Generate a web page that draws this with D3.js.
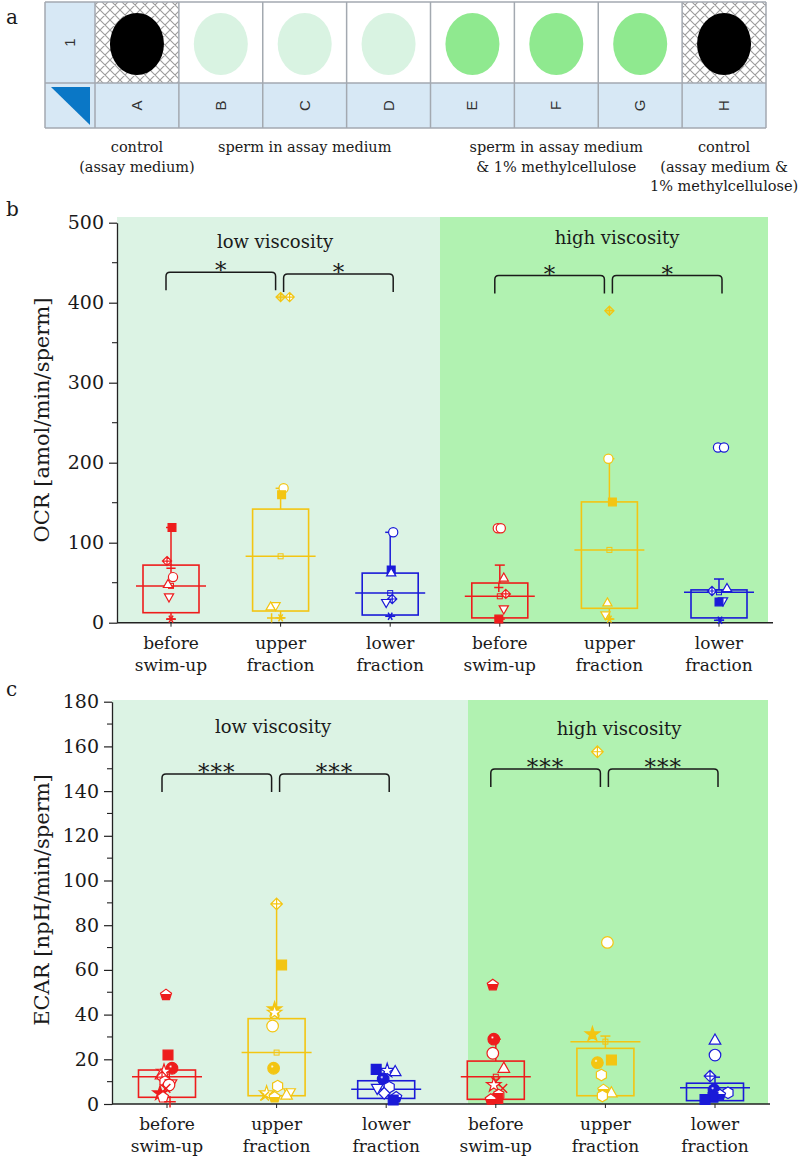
<!DOCTYPE html>
<html><head><meta charset="utf-8">
<script src="https://cdn.jsdelivr.net/npm/d3@7"></script>
<style>
body{margin:0;background:#fff}
svg{display:block}
text{font-family:"DejaVu Serif",serif;fill:#1a1a1a}
</style>
</head><body>
<svg id="chart" width="800" height="1157"></svg>
<script>
// ---------------- DATA ----------------
// panel a: well plate
const wellRows = ["1"];
const wellColumns = ["A","B","C","D","E","F","G","H"];
const wellContent = ["control","low","low","low","high","high","high","control"];
const plateLabels = [["control","(assay medium)"],["sperm in assay medium"],["sperm in assay medium","& 1% methylcellulose"],["control","(assay medium &","1% methylcellulose)"]];
const plateLabelColumns = ["A","C","F","H"];

// panels b, c: groups
const groups = ["low-before","low-upper","low-lower","high-before","high-upper","high-lower"];
const categoryLabels = [["before","swim-up"],["upper","fraction"],["lower","fraction"],["before","swim-up"],["upper","fraction"],["lower","fraction"]];
const viscosityLabels = ["low viscosity","high viscosity"];

// OCR (panel b)
const ocrTicks = [0,100,200,300,400,500];
const ocrQ1 = [12.5, 14.6, 9.6, 6, 18, 6];
const ocrQ3 = [72, 142, 62, 49.6, 151, 41];
const ocrMean = [46, 83, 37, 33, 91, 38];
const ocrWhiskerLow = [4.5, 6, 8, 4.5, 4.5, 3];
const ocrWhiskerHigh = [119, 168, 113, 72, 205, 54.6];
const ocrPoints = [
  [119, 77, 68, 57, 48, 32, 4.5],
  [407, 407, 168, 160, 21, 20, 6, 6],
  [113, 66, 62.5, 29.6, 25, 8],
  [118, 118, 56, 44, 36, 17, 4.5],
  [390, 205, 151, 25, 9.6, 4.5],
  [219, 219, 43, 39.6, 27, 26, 3]
];
const ocrMarkers = [
  ["square-f","diamondx-o","plus","circle-o","triup-o","tridown-o","aster"],
  ["diamondx-l","diamondx-o","circle-o","square-f","tridown-o","triup-o","plus","aster"],
  ["circle-o","square-f","triup-o","diamondx-o","tridown-o","aster"],
  ["circle-o","circle-o","triup-o","plus","diamondx-o","tridown-o","square-f"],
  ["diamondx-l","circle-o","square-f","triup-o","tridown-o","aster"],
  ["circle-o","circle-o","triup-o","diamondx-o","tridown-o","square-f","aster"]
];
const ocrJitter = [
  [1,-4,0,2,-3,-2,0],
  [0,9,3,1,-5,-10,-9,0],
  [3,1,1,2,-4,0],
  [-2,1,4,-1,6,4,-1],
  [0,-1,3,-2,-4,0],
  [-1,5,8,-7,4,0,1]
];
const ocrBrackets = [[0,1,"*"],[1,2,"*"],[3,4,"*"],[4,5,"*"]];
const ocrBracketLevel = [438, 436, 434, 434];

// ECAR (panel c)
const ecarTicks = [0,20,40,60,80,100,120,140,160,180];
const ecarQ1 = [3, 3.7, 2.5, 2.1, 3.7, 1.5];
const ecarQ3 = [15.2, 38.2, 10.4, 19.2, 24.9, 9.3];
const ecarMean = [12.2, 23, 6.6, 12.2, 27.9, 7.3];
const ecarWhiskerLow = [3, 3.7, 2.5, 2.1, 3.7, 1.5];
const ecarWhiskerHigh = [15.2, 89.8, 10.4, 29, 30.4, 12];
const ecarPoints = [
  [48.8, 21.9, 16, 14.5, 13, 12, 10, 9, 8.5, 7, 4.8, 3, 1],
  [89.5, 62.2, 42.4, 40.9, 34.9, 16, 8, 5, 4.8, 4, 3.5, 3],
  [15.5, 14.9, 14.5, 11.2, 7.5, 7, 4.8, 3, 1.8],
  [53.2, 29, 22.7, 16, 10, 8.5, 7, 4, 2.5, 2],
  [157.6, 72.3, 31.2, 19.7, 18.5, 13, 6.3, 5, 3.6],
  [28.6, 21.9, 12.5, 6.3, 5, 4, 3, 2]
];
const ecarMarkers = [
  ["pent-h","square-f","circle-s","star-o","triup-o","diamondx-o","hex-o","tridown-o","circle-o","x","star-f","pent-o","plus"],
  ["diamondx-o","square-f","star-f","star-o","circle-o","circle-s","hex-o","tridown-o","star-o","triup-o","x","pent-h"],
  ["square-f","star-o","triup-o","circle-s","hex-o","tridown-o","diamond-o","pent-h","square-f"],
  ["pent-h","circle-s","circle-o","triup-o","x","star-o","x","hex-o","square-f","pent-h"],
  ["diamondx-o","circle-o","star-f","square-f","circle-s","hex-o","pent-h","triup-o","hex-o"],
  ["triup-o","circle-o","diamondx-o","circle-s","hex-o","pent-h","square-f","square-f"]
];
const ecarJitter = [
  [-1,1,5,-3,-6,-5,-2,4,2,-1,-7,-4,3],
  [0,5,-2,-2,-4,-3,1,13,-10,10,-12,-2],
  [-10,1,9,-3,3,-9,-2,10,7],
  [-3,-2,-3,8,0,-2,7,3,2,-5],
  [-8,2,-13,6,-8,-4,-2,6,-3],
  [0,0,-5,-1,13,5,-2,-10]
];
const ecarBrackets = [[0,1,"***"],[1,2,"***"],[3,4,"***"],[4,5,"***"]];
const ecarBracketLevel = [147.7, 147.7, 149.9, 149.9];

// ---------------- STYLE ----------------
const groupColors = ["#ee1c1c","#f3c512","#1a1ad8","#ee1c1c","#f3c512","#1a1ad8"];
const colorKeys = {"#ee1c1c":"red","#f3c512":"gold","#1a1ad8":"blue"};
const wellFill = {control:"#000", low:"#d9f3e2", high:"#8fe98f"};

const svg = d3.select("#chart");
const defs = svg.append("defs");
const hatch = defs.append("pattern").attr("id","hatch").attr("width",10).attr("height",10)
  .attr("patternUnits","userSpaceOnUse");
hatch.append("rect").attr("width",10).attr("height",10).attr("fill","#fff");
hatch.append("path").attr("d","M0,0L10,10M10,0L0,10M-1,9L1,11M9,-1L11,1M-1,1L1,-1M9,11L11,9")
  .attr("stroke","#9c9c9c").attr("stroke-width",1.1);

Object.entries(colorKeys).forEach(([c,k])=>{
  const lg = defs.append("linearGradient").attr("id","half-"+k).attr("x1",0).attr("y1",0).attr("x2",0).attr("y2",1);
  lg.append("stop").attr("offset","0%").attr("stop-color","#fff");
  lg.append("stop").attr("offset","48%").attr("stop-color","#fff");
  lg.append("stop").attr("offset","48%").attr("stop-color",c);
  lg.append("stop").attr("offset","100%").attr("stop-color",c);
  const rg = defs.append("radialGradient").attr("id","sphere-"+k).attr("cx","38%").attr("cy","35%").attr("r","65%");
  rg.append("stop").attr("offset","0%").attr("stop-color","#fff");
  rg.append("stop").attr("offset","22%").attr("stop-color",c);
  rg.append("stop").attr("offset","100%").attr("stop-color",c);
});

// ---------------- PANEL A ----------------
(function(){
  const g = svg.append("g");
  const col = d3.scaleBand().domain(wellColumns).range([95,766]);
  const top = 2, mid = 83, bot = 128, left = 45;
  const gridStroke = "#a3a9b0";
  g.append("rect").attr("x",left).attr("y",top).attr("width",95-left).attr("height",mid-top).attr("fill","#d7e8f5");
  g.append("rect").attr("x",left).attr("y",mid).attr("width",95-left).attr("height",bot-mid).attr("fill","#d7e8f5");
  g.append("path").attr("d",`M${left+6},${mid+4}L${95-5},${mid+4}L${95-5},${bot-3}Z`).attr("fill","#0a77c6");
  g.selectAll(".wc").data(wellColumns).join("rect")
    .attr("x",d=>col(d)).attr("y",top).attr("width",col.bandwidth()).attr("height",mid-top)
    .attr("fill",(d,i)=>wellContent[i]==="control"?"url(#hatch)":"#fff");
  g.selectAll(".lc").data(wellColumns).join("rect")
    .attr("x",d=>col(d)).attr("y",mid).attr("width",col.bandwidth()).attr("height",bot-mid).attr("fill","#d7e8f5");
  const xs = [left].concat(wellColumns.map(d=>col(d))).concat([766]);
  g.selectAll(".vl").data(xs).join("line").attr("x1",d=>d).attr("x2",d=>d).attr("y1",top).attr("y2",bot)
    .attr("stroke",gridStroke).attr("stroke-width",1.5);
  g.selectAll(".hl").data([top,mid,bot]).join("line").attr("x1",left).attr("x2",766).attr("y1",d=>d).attr("y2",d=>d)
    .attr("stroke",gridStroke).attr("stroke-width",1.5);
  g.selectAll(".well").data(wellColumns).join("ellipse")
    .attr("cx",d=>col(d)+col.bandwidth()/2).attr("cy",44).attr("rx",27).attr("ry",31)
    .attr("fill",(d,i)=>wellFill[wellContent[i]]);
  g.selectAll(".rowl").data(wellRows).join("text")
    .attr("transform",`translate(${(left+95)/2+5},${(top+mid)/2}) rotate(-90)`)
    .attr("text-anchor","middle").style("font-family","Liberation Sans, sans-serif").style("font-size","15px").style("fill","#333")
    .text(d=>d);
  g.selectAll(".coll").data(wellColumns).join("text")
    .attr("transform",d=>`translate(${col(d)+col.bandwidth()/2+5},${(mid+bot)/2}) rotate(-90)`)
    .attr("text-anchor","middle").style("font-family","Liberation Sans, sans-serif").style("font-size","15px").style("fill","#333")
    .text(d=>d);
  plateLabels.forEach((lines,i)=>{
    const cx = col(plateLabelColumns[i])+col.bandwidth()/2;
    lines.forEach((t,j)=>{
      g.append("text").attr("x",cx).attr("y",152+j*19.5).attr("text-anchor","middle")
        .style("font-size","14.5px").text(t);
    });
  });
  svg.append("text").attr("x",6).attr("y",24).style("font-size","20px").text("a");
})();

// ---------------- MARKERS ----------------
function polyPath(n, r, rot){
  const pts = d3.range(n).map(k=>{const a = rot + k*2*Math.PI/n; return [r*Math.cos(a), r*Math.sin(a)];});
  return "M"+pts.map(p=>p[0].toFixed(2)+","+p[1].toFixed(2)).join("L")+"Z";
}
function shapePath(shape, r){
  switch(shape){
    case "circle": return d3.symbol(d3.symbolCircle, Math.PI*r*r)();
    case "square": {const s=r*0.85; return `M${-s},${-s}H${s}V${s}H${-s}Z`;}
    case "triup": return `M0,${-r*1.05}L${r},${r*0.7}L${-r},${r*0.7}Z`;
    case "tridown": return `M0,${r*1.05}L${r},${-r*0.7}L${-r},${-r*0.7}Z`;
    case "diamond": return `M0,${-r}L${r},0L0,${r}L${-r},0Z`;
    case "diamondx": return `M0,${-r}L${r},0L0,${r}L${-r},0ZM0,${-r}V${r}M${-r},0H${r}`;
    case "star": return d3.symbol(d3.symbolStar, r*r*1.9)();
    case "hex": return polyPath(6, r, -Math.PI/2);
    case "pent": return polyPath(5, r, -Math.PI/2);
    case "plus": return `M${-r},0H${r}M0,${-r}V${r}`;
    case "x": return `M${-r*.75},${-r*.75}L${r*.75},${r*.75}M${r*.75},${-r*.75}L${-r*.75},${r*.75}`;
    case "aster": { const a=r*0.9, b=r*0.45, c=r*0.78;
      return `M${-a},0H${a}M${-b},${-c}L${b},${c}M${b},${-c}L${-b},${c}`; }
  }
}
function drawMarker(g, spec, cx, cy, r, color){
  const [shape, fill] = spec.split("-");
  const p = g.append("path").attr("d",shapePath(shape,r)).attr("transform",`translate(${cx},${cy})`)
    .attr("stroke",color).attr("stroke-width",1.2);
  const k = colorKeys[color];
  if(shape==="plus"||shape==="x"||shape==="aster"){ p.attr("fill","none").attr("stroke-width",1.5); return; }
  if(fill==="f") p.attr("fill",color);
  else if(fill==="h") p.attr("fill",`url(#half-${k})`);
  else if(fill==="s") p.attr("fill",`url(#sphere-${k})`);
  else if(fill==="l") p.attr("fill",color).attr("fill-opacity",0.45);
  else p.attr("fill","#fff");
}

// ---------------- PANELS B, C ----------------
function drawPanel(o){
  const g = svg.append("g");
  const y = d3.scaleLinear().domain([0, o.yMax]).range([o.y0, o.yTop]);
  const x = d3.scalePoint().domain(groups).range(o.xRange);
  g.append("rect").attr("x",o.axisX).attr("y",o.bgTop).attr("width",o.split-o.axisX).attr("height",o.y0-o.bgTop).attr("fill","#dcf3e4");
  g.append("rect").attr("x",o.split).attr("y",o.bgTop).attr("width",o.bgRight-o.split).attr("height",o.y0-o.bgTop).attr("fill","#b1f2b1");

  const ax = g.append("g").attr("transform",`translate(${o.axisX},0)`)
    .call(d3.axisLeft(y).tickValues(o.ticks).tickSize(8).tickSizeOuter(0).tickPadding(5).tickFormat(d3.format("d")));
  ax.select(".domain").attr("stroke","#222").attr("stroke-width",1.3);
  ax.selectAll(".tick line").attr("stroke","#222").attr("stroke-width",1.2);
  ax.selectAll(".tick text").style("font-family","DejaVu Serif, serif").style("font-size","19px").attr("fill","#1a1a1a");
  const minor = d3.range(o.ticks.length-1).map(i=>(o.ticks[i]+o.ticks[i+1])/2);
  g.selectAll(".minor").data(minor).join("line").attr("x1",o.axisX-5).attr("x2",o.axisX)
    .attr("y1",d=>y(d)).attr("y2",d=>y(d)).attr("stroke","#222").attr("stroke-width",1.1);
  g.append("line").attr("x1",o.axisX).attr("x2",o.axisRight).attr("y1",o.y0).attr("y2",o.y0).attr("stroke","#222").attr("stroke-width",1.4);
  g.selectAll(".xt").data(groups).join("line").attr("x1",d=>x(d)).attr("x2",d=>x(d))
    .attr("y1",o.y0).attr("y2",o.y0+4).attr("stroke","#222").attr("stroke-width",1);
  groups.forEach((d,i)=>{
    categoryLabels[i].forEach((t,j)=>{
      g.append("text").attr("x",x(d)).attr("y",o.y0+26+j*22).attr("text-anchor","middle").style("font-size","17px").text(t);
    });
  });
  g.append("text").attr("transform",`translate(${o.titleX},${o.titleY}) rotate(-90)`).attr("text-anchor","middle")
    .attr("dominant-baseline","central").style("font-size","21px").text(o.yTitle);
  svg.append("text").attr("x",6).attr("y",o.letterY).style("font-size","20px").text(o.letter);
  viscosityLabels.forEach((t,i)=>{
    g.append("text").attr("x",o.viscX[i]).attr("y",o.viscY[i]).attr("text-anchor","middle").style("font-size","18px").text(t);
  });

  groups.forEach((d,i)=>{
    const c = groupColors[i], xc = x(d);
    const bg = g.append("g");
    const line = (x1,y1,x2,y2,w)=>bg.append("line").attr("x1",x1).attr("y1",y1).attr("x2",x2).attr("y2",y2).attr("stroke",c).attr("stroke-width",w||1.5);
    if(o.wHi[i] > o.q3[i]){ line(xc,y(o.q3[i]),xc,y(o.wHi[i])); line(xc-5,y(o.wHi[i]),xc+5,y(o.wHi[i])); }
    if(o.wLo[i] < o.q1[i]){ line(xc,y(o.q1[i]),xc,y(o.wLo[i])); line(xc-5,y(o.wLo[i]),xc+5,y(o.wLo[i])); }
    bg.append("rect").attr("x",xc-o.boxHalf).attr("y",y(o.q3[i])).attr("width",2*o.boxHalf)
      .attr("height",y(o.q1[i])-y(o.q3[i])).attr("fill","none").attr("stroke",c).attr("stroke-width",1.6);
    line(xc-o.meanHalf,y(o.mean[i]),xc+o.meanHalf,y(o.mean[i]));
    bg.append("rect").attr("x",xc-2.5).attr("y",y(o.mean[i])-2.5).attr("width",5).attr("height",5)
      .attr("fill","none").attr("stroke",c).attr("stroke-width",1);
  });
  groups.forEach((d,i)=>{
    const c = groupColors[i], xc = x(d);
    const pg = g.append("g");
    o.points[i].forEach((v,j)=>{
      drawMarker(pg, o.markers[i][j], xc + o.jitter[i][j], y(v), o.r, c);
    });
  });
  o.brackets.forEach((b,k)=>{
    const [a, e, lab] = b;
    const shift = (k%2===0) ? -5 : 3;
    const x1 = x(groups[a]) + shift, x2 = x(groups[e]) + shift;
    const yt = y(o.bracketLevel[k]), yb = yt + o.bracketLeg, r = 4;
    g.append("path").attr("d",`M${x1},${yb}L${x1},${yt+r}Q${x1},${yt} ${x1+r},${yt}L${x2-r},${yt}Q${x2},${yt} ${x2},${yt+r}L${x2},${yb}`)
      .attr("fill","none").attr("stroke","#1a1a1a").attr("stroke-width",1.5);
    g.append("text").attr("x",(x1+x2)/2).attr("y",yt+6).attr("text-anchor","middle")
      .style("font-size","23px").style("letter-spacing",lab.length>1?"1px":"0px").text(lab);
  });
}

drawPanel({
  yMax:500, y0:622.7, yTop:222.7, ticks:ocrTicks, xRange:[171,719],
  axisX:117, axisRight:773, bgTop:217, split:440, bgRight:768,
  q1:ocrQ1, q3:ocrQ3, mean:ocrMean, wLo:ocrWhiskerLow, wHi:ocrWhiskerHigh,
  points:ocrPoints, markers:ocrMarkers, jitter:ocrJitter, r:4.6,
  boxHalf:28, meanHalf:35,
  brackets:ocrBrackets, bracketLevel:ocrBracketLevel, bracketLeg:18,
  yTitle:"OCR [amol/min/sperm]", titleX:42, titleY:420, letter:"b", letterY:216,
  viscX:[275,617], viscY:[248,244]
});
drawPanel({
  yMax:180, y0:1104, yTop:701.7, ticks:ecarTicks, xRange:[167,715],
  axisX:112, axisRight:770, bgTop:700, split:468, bgRight:768,
  q1:ecarQ1, q3:ecarQ3, mean:ecarMean, wLo:ecarWhiskerLow, wHi:ecarWhiskerHigh,
  points:ecarPoints, markers:ecarMarkers, jitter:ecarJitter, r:5.8,
  boxHalf:28.5, meanHalf:35,
  brackets:ecarBrackets, bracketLevel:ecarBracketLevel, bracketLeg:18,
  yTitle:"ECAR [npH/min/sperm]", titleX:42, titleY:900, letter:"c", letterY:696,
  viscX:[273,619], viscY:[733,735]
});
</script>
</body></html>
